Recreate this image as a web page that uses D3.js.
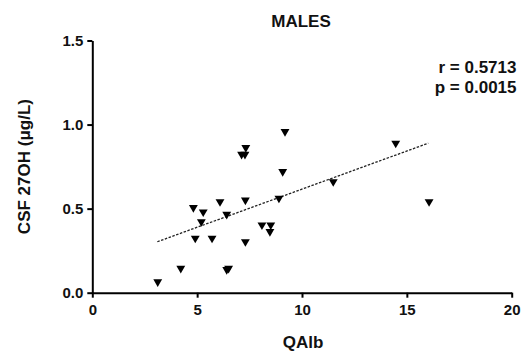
<!DOCTYPE html>
<html>
<head>
<meta charset="utf-8">
<script src="https://cdn.jsdelivr.net/npm/d3@7"></script>
<style>
  body { margin: 0; background: #fff; }
  text { font-family: 'Liberation Sans', Arial, sans-serif; font-weight: bold; fill: #111; }
</style>
</head>
<body>
<svg id="scatter"></svg>
<script>
// QAlb (x) vs CSF 27OH (y), males
const qalb = [3.12, 4.22, 6.41, 6.50, 4.82, 5.29, 5.20, 4.91, 5.71, 6.09, 6.41, 7.30, 7.30,
  7.12, 7.28, 7.32, 8.09, 8.51, 8.47, 8.90, 9.08, 9.19, 11.49, 14.47, 16.06];
const csf27oh = [0.071, 0.151, 0.143, 0.151, 0.512, 0.486, 0.428, 0.330, 0.330, 0.547, 0.472, 0.309, 0.557,
  0.829, 0.829, 0.869, 0.409, 0.409, 0.369, 0.568, 0.726, 0.964, 0.666, 0.895, 0.547];

// regression line end points
const fitX = [3.10, 16.02];
const fitY = [0.303, 0.889];

const xTicks = [0, 5, 10, 15, 20];
const yTicks = [0, 0.5, 1.0, 1.5];
const statsLines = ['r = 0.5713', 'p = 0.0015'];

const svgWidth = 525;
const svgHeight = 354;
const margin = { top: 40.5, right: 13.3, bottom: 61.3, left: 92.3 };
const width = svgWidth - margin.left - margin.right;
const height = svgHeight - margin.top - margin.bottom;

const svg = d3.select('#scatter')
  .attr('width', svgWidth)
  .attr('height', svgHeight);

const g = svg.append('g')
  .attr('transform', `translate(${margin.left}, ${margin.top})`);

const xScale = d3.scaleLinear().domain([0, 20]).range([0, width]);
const yScale = d3.scaleLinear().domain([0, 1.5]).range([height, 0]);

const xAxis = d3.axisBottom(xScale)
  .tickValues(xTicks)
  .tickSize(5)
  .tickSizeOuter(0)
  .tickPadding(7)
  .tickFormat(d3.format('d'));
const yAxis = d3.axisLeft(yScale)
  .tickValues(yTicks)
  .tickSize(5)
  .tickSizeOuter(0)
  .tickPadding(4)
  .tickFormat(d3.format('.1f'));

const gx = g.append('g')
  .attr('transform', `translate(0, ${height})`)
  .call(xAxis);
const gy = g.append('g')
  .call(yAxis);

[gx, gy].forEach(ax => {
  ax.select('.domain').attr('stroke', '#000').attr('stroke-width', 2);
  ax.selectAll('.tick line').attr('stroke', '#000').attr('stroke-width', 2);
  ax.selectAll('.tick text')
    .attr('font-size', 15)
    .attr('font-family', null)
    .attr('fill', '#111');
});

// fit line
g.append('path')
  .datum(d3.zip(fitX, fitY))
  .attr('fill', 'none')
  .attr('stroke', '#222')
  .attr('stroke-width', 1.3)
  .attr('stroke-dasharray', '2.5,1.5')
  .attr('d', d3.line().x(d => xScale(d[0])).y(d => yScale(d[1])));

// points, downward triangles
const tri = d3.symbol().type(d3.symbolTriangle).size(34);
g.selectAll('.pt')
  .data(d3.zip(qalb, csf27oh))
  .enter()
  .append('path')
    .attr('class', 'pt')
    .attr('d', tri)
    .attr('fill', '#000')
    .attr('transform', d => `translate(${xScale(d[0])}, ${yScale(d[1]) + 1}) rotate(180)`);

svg.append('text')
  .attr('x', 301)
  .attr('y', 26.5)
  .attr('text-anchor', 'middle')
  .attr('font-size', 17)
  .text('MALES');

svg.append('text')
  .attr('x', margin.left + width / 2 + 1)
  .attr('y', 348)
  .attr('text-anchor', 'middle')
  .attr('font-size', 17)
  .text('QAlb');

svg.append('text')
  .attr('transform', `translate(30, ${margin.top + height / 2}) rotate(-90)`)
  .attr('text-anchor', 'middle')
  .attr('font-size', 17)
  .text('CSF 27OH (\u03bcg/L)');

svg.selectAll('.stat')
  .data(statsLines)
  .enter()
  .append('text')
    .attr('class', 'stat')
    .attr('x', 516.5)
    .attr('y', (d, i) => 72.5 + i * 20.5)
    .attr('text-anchor', 'end')
    .attr('font-size', 17)
    .text(d => d);
</script>
</body>
</html>
